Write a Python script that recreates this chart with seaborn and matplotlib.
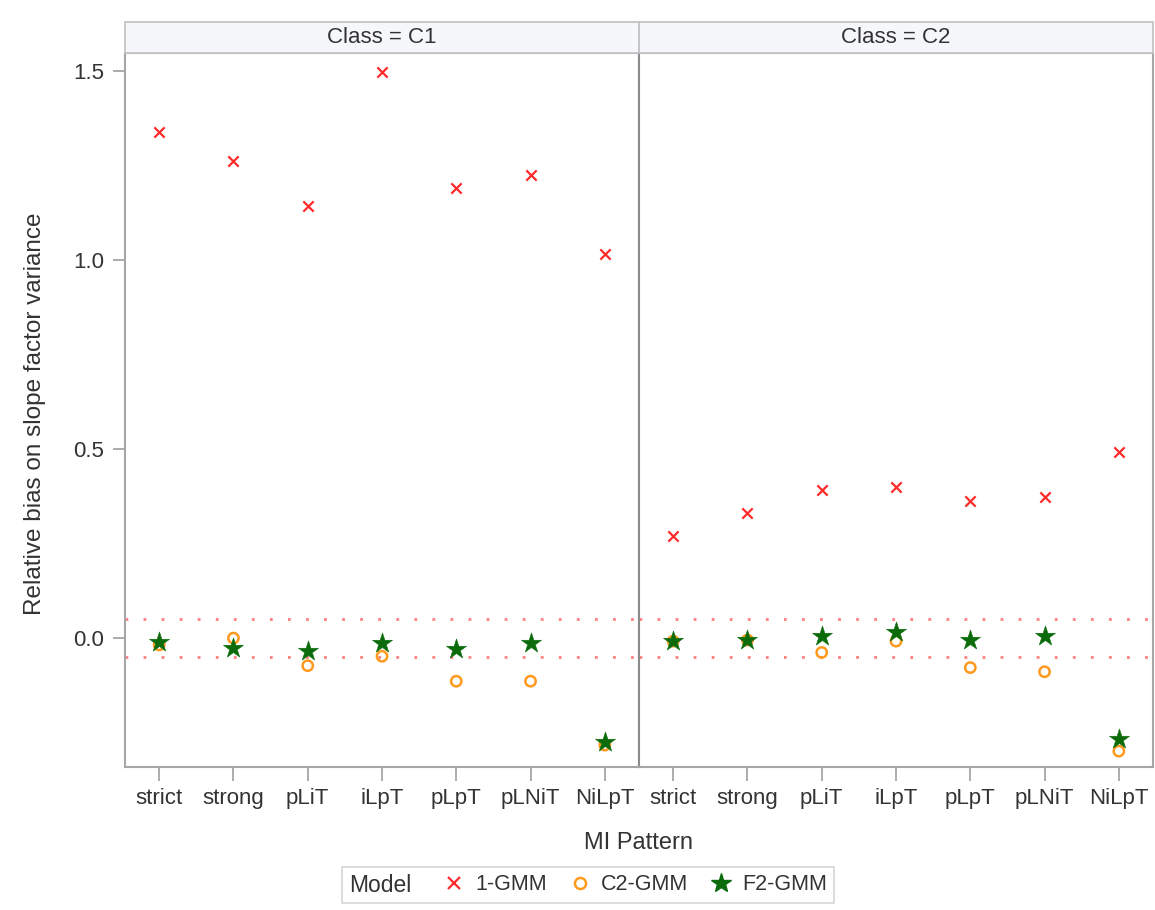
import matplotlib
matplotlib.use("Agg")
import matplotlib.pyplot as plt
from matplotlib.lines import Line2D
from matplotlib.patches import Rectangle
from matplotlib.offsetbox import HPacker
import pandas as pd
import seaborn as sns

# MI patterns on the x axis
patterns = ["strict", "strong", "pLiT", "iLpT", "pLpT", "pLNiT", "NiLpT"]
classes = ["C1", "C2"]
models = ["1-GMM", "C2-GMM", "F2-GMM"]

# Relative bias on slope factor variance, per class and model
gmm1_c1 = [1.339, 1.262, 1.143, 1.497, 1.190, 1.225, 1.016]
c2gmm_c1 = [-0.018, 0.000, -0.073, -0.048, -0.114, -0.114, -0.283]
f2gmm_c1 = [-0.010, -0.026, -0.034, -0.012, -0.030, -0.014, -0.274]

gmm1_c2 = [0.270, 0.331, 0.392, 0.399, 0.362, 0.373, 0.492]
c2gmm_c2 = [-0.008, -0.005, -0.038, -0.008, -0.078, -0.089, -0.299]
f2gmm_c2 = [-0.008, -0.005, 0.006, 0.017, -0.005, 0.006, -0.268]

# Tolerance band drawn as dotted reference lines
ref_lines = [0.05, -0.05]

values = {
    ("C1", "1-GMM"): gmm1_c1, ("C1", "C2-GMM"): c2gmm_c1, ("C1", "F2-GMM"): f2gmm_c1,
    ("C2", "1-GMM"): gmm1_c2, ("C2", "C2-GMM"): c2gmm_c2, ("C2", "F2-GMM"): f2gmm_c2,
}
rows = []
for (cls, mdl), vals in values.items():
    for p, v in zip(patterns, vals):
        rows.append({"Class": cls, "Model": mdl, "MI Pattern": p, "Bias": v})
df = pd.DataFrame(rows)

sns.set_theme(style="white")
plt.rcParams["font.family"] = ["Liberation Sans", "DejaVu Sans"]
text_color = "#333333"
spine_color = "#A6A6A6"

red, orange, green = "#FF2B2B", "#FF9A1F", "#0B6B0B"
styles = {
    "1-GMM": dict(marker="x", color=red, s=55, linewidth=1.6),
    "C2-GMM": dict(marker="o", facecolor="none", edgecolor=orange, s=55,
                   linewidth=1.8),
    "F2-GMM": dict(marker="*", color=green, edgecolor=green, s=230,
                   linewidth=0.4),
}

W, H = 1155, 910
fig = plt.figure(figsize=(W / 100, H / 100), dpi=100)
left, right, top, bottom = 125 / W, 1153 / W, 1 - 53 / H, 1 - 767 / H
axes = fig.subplots(1, 2, sharey=True,
                    gridspec_kw=dict(left=left, right=right, top=top,
                                     bottom=bottom, wspace=0))

strip_h = 31 / 714
for ax, cls in zip(axes, classes):
    sub = df[df["Class"] == cls]
    for mdl in models:
        d = sub[sub["Model"] == mdl]
        sns.scatterplot(data=d, x="MI Pattern", y="Bias", ax=ax, zorder=3,
                        legend=False, **styles[mdl])
    for y in ref_lines:
        ax.axhline(y, color="#FF7F7F", linestyle=(0, (1, 5.5)), linewidth=2.0,
                   zorder=1)
    ax.set_xlim(-0.46, len(patterns) - 0.54)
    ax.set_ylim(-0.341, 1.548)
    ax.set_xlabel("")
    ax.set_ylabel("")
    for sp in ax.spines.values():
        sp.set_color(spine_color)
        sp.set_linewidth(1.5)
    ax.tick_params(axis="x", direction="out", length=10, width=1.3,
                   color=spine_color, labelsize=16, labelcolor=text_color,
                   pad=5, bottom=True)
    # facet header strip
    ax.add_patch(Rectangle((0, 1), 1, strip_h, transform=ax.transAxes,
                           facecolor="#F6F7FB", edgecolor="#C4C4C4",
                           linewidth=1.3, clip_on=False, zorder=5))
    ax.text(0.5, 1 + strip_h / 2, f"Class = {cls}", transform=ax.transAxes,
            ha="center", va="center", fontsize=16, color=text_color, zorder=6)

axes[0].set_yticks([0.0, 0.5, 1.0, 1.5])
axes[0].set_yticklabels(["0.0", "0.5", "1.0", "1.5"])
axes[0].tick_params(axis="y", direction="out", length=9, width=1.3,
                    color=spine_color, labelsize=16, labelcolor=text_color,
                    pad=6, left=True)
axes[1].tick_params(axis="y", left=False)
axes[0].spines["right"].set_color("#8C8C8C")
axes[1].spines["left"].set_color("#8C8C8C")

fig.text(35 / W, 1 - ((53 + 767) / 2 + 4) / H, "Relative bias on slope factor variance",
         rotation=90, ha="center", va="center", fontsize=17.5, color=text_color)
fig.text((125 + 1153) / 2 / W, 1 - 843 / H, "MI Pattern",
         ha="center", va="center", fontsize=17, color=text_color)

handles = [
    Line2D([], [], linestyle="none", marker="x", color=red,
           markersize=8, markeredgewidth=1.6),
    Line2D([], [], linestyle="none", marker="o", color=orange,
           markerfacecolor="none", markersize=8, markeredgewidth=1.8),
    Line2D([], [], linestyle="none", marker="*", color=green,
           markersize=15),
]
leg = fig.legend(handles, models, title="Model", ncol=3, loc="center",
                 bbox_to_anchor=(588 / W, 1 - 885 / H), frameon=True,
                 fontsize=15.5, title_fontsize=16.5, handlelength=1.0,
                 handletextpad=0.5, columnspacing=1.0, borderpad=0.3,
                 fancybox=False, edgecolor="#CFCFCF")
for t in leg.get_texts():
    t.set_color(text_color)
leg.get_title().set_color(text_color)
leg.get_frame().set_linewidth(1.3)
# put the legend title on the same row as the entries
fs = leg._fontsize
leg._legend_box = HPacker(pad=leg.borderpad * fs, sep=1.5 * fs, align="center",
                          children=[leg._legend_title_box, leg._legend_handle_box])
leg._legend_box.set_figure(fig)
leg._legend_box.axes = leg.axes
leg._legend_box.set_offset(leg._findoffset)

fig.savefig("out.png", dpi=100, facecolor="white")
